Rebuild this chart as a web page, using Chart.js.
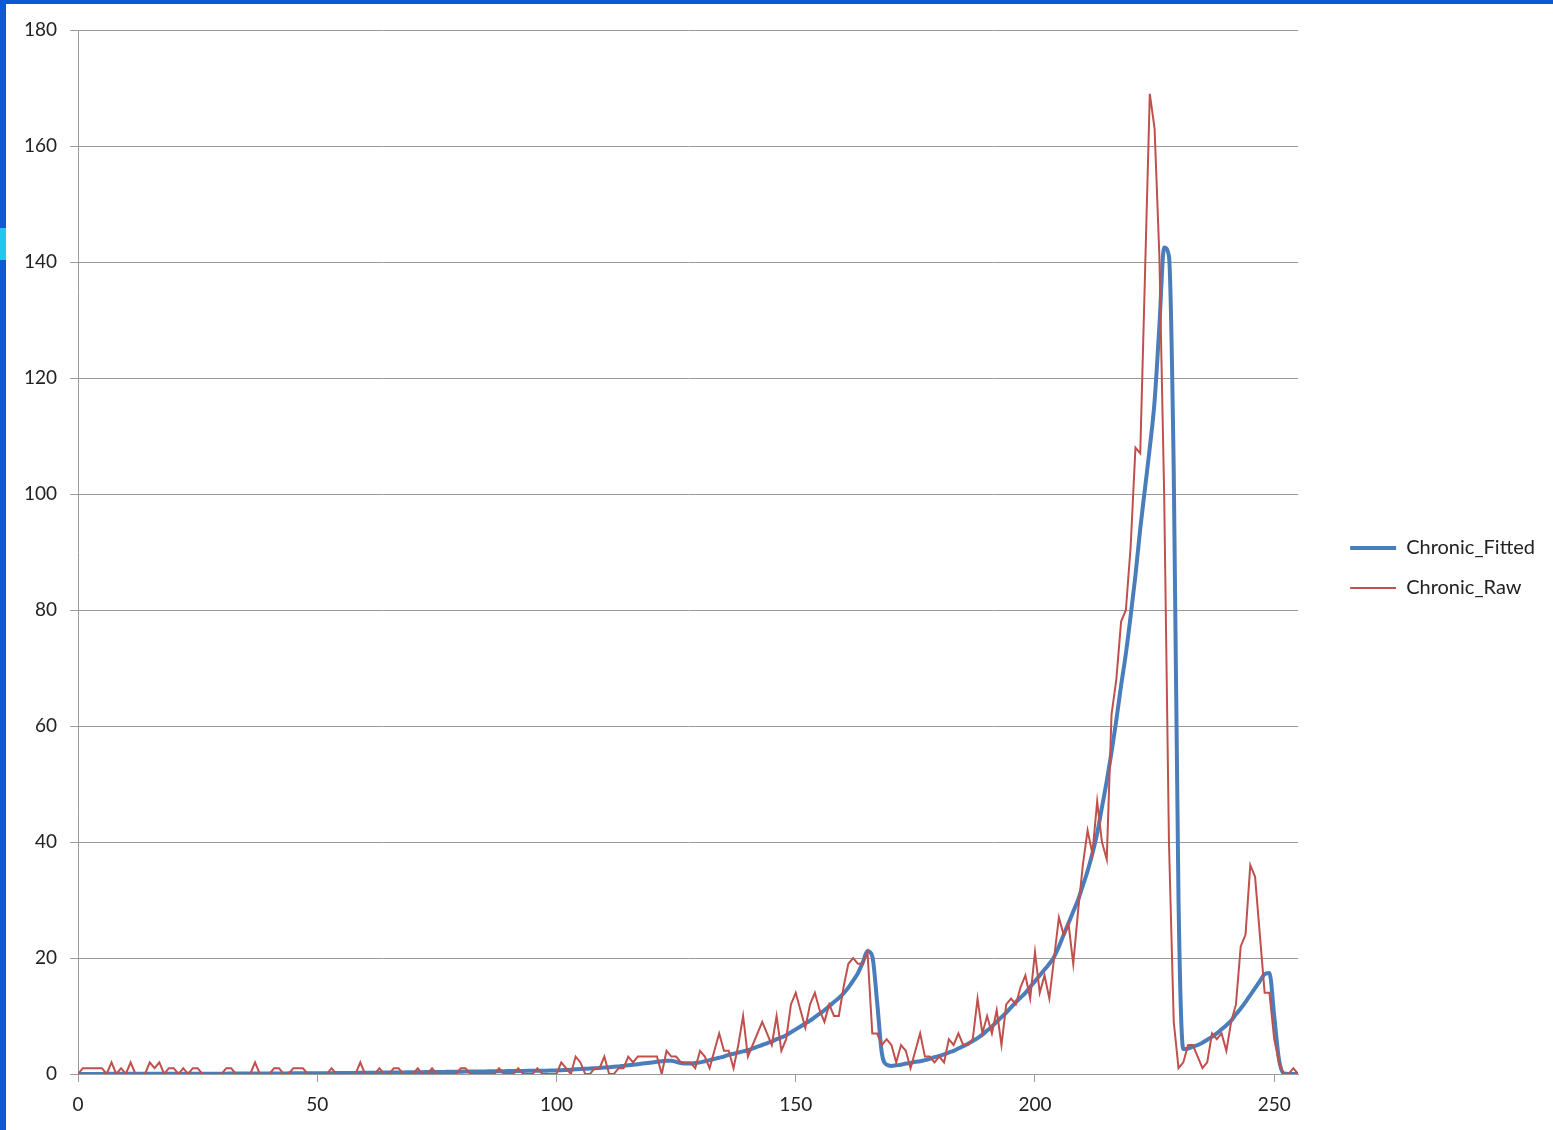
<!DOCTYPE html>
<html>
<head>
<meta charset="utf-8">
<title>Chronic</title>
<script src="https://cdn.jsdelivr.net/npm/chart.js@4.4.1/dist/chart.umd.min.js"></script>
<style>
  html, body { margin: 0; padding: 0; background: #fff; }
  #wrap { position: relative; width: 1553px; height: 1130px; }
  .frame { position: absolute; background: #0b5ad3; }
</style>
</head>
<body>
<div id="wrap">
  <canvas id="chronicChart"></canvas>
  <div class="frame" style="left:0;top:0;width:1553px;height:4px"></div>
  <div class="frame" style="left:0;top:0;width:6px;height:1130px"></div>
  <div class="frame" style="left:0;top:228px;width:6px;height:32px;background:#1ec8f0"></div>
</div>
<script>
// giá trị, mỗi điểm là một ngày 0..255
const chronicRaw = [
  0, 1, 1, 1, 1, 1, 0, 2, 0, 1,
  0, 2, 0, 0, 0, 2, 1, 2, 0, 1,
  1, 0, 1, 0, 1, 1, 0, 0, 0, 0,
  0, 1, 1, 0, 0, 0, 0, 2, 0, 0,
  0, 1, 1, 0, 0, 1, 1, 1, 0, 0,
  0, 0, 0, 1, 0, 0, 0, 0, 0, 2,
  0, 0, 0, 1, 0, 0, 1, 1, 0, 0,
  0, 1, 0, 0, 1, 0, 0, 0, 0, 0,
  1, 1, 0, 0, 0, 0, 0, 0, 1, 0,
  0, 0, 1, 0, 0, 0, 1, 0, 0, 0,
  0, 2, 1, 0, 3, 2, 0, 0, 1, 1,
  3, 0, 0, 1, 1, 3, 2, 3, 3, 3,
  3, 3, 0, 4, 3, 3, 2, 2, 2, 1,
  4, 3, 1, 4, 7, 4, 4, 1, 5, 10,
  3, 5, 7, 9, 7, 5, 10, 4, 6, 12,
  14, 11, 8, 12, 14, 11, 9, 12, 10, 10,
  15, 19, 20, 19, 19, 21, 7, 7, 5, 6,
  5, 2, 5, 4, 1, 4, 7, 3, 3, 2,
  3, 2, 6, 5, 7, 5, 5, 6, 13, 7,
  10, 7, 11, 5, 12, 13, 12, 15, 17, 13,
  21, 14, 17, 13, 20, 27, 24, 26, 19, 28,
  36, 42, 38, 47, 40, 37, 62, 68, 78, 80,
  91, 108, 107, 138, 169, 163, 141, 100, 40, 9,
  1, 2, 5, 5, 3, 1, 2, 7, 6, 7,
  4, 9, 12, 22, 24, 36, 34, 24, 14, 14,
  6, 2, 0, 0, 1, 0
];

const chronicFitted = [
  0.02, 0.02, 0.02, 0.02, 0.02, 0.02, 0.03, 0.03, 0.03, 0.03,
  0.03, 0.03, 0.03, 0.03, 0.04, 0.04, 0.04, 0.04, 0.04, 0.04,
  0.05, 0.05, 0.05, 0.05, 0.05, 0.06, 0.06, 0.06, 0.06, 0.06,
  0.06, 0.06, 0.07, 0.07, 0.07, 0.07, 0.08, 0.08, 0.08, 0.09,
  0.09, 0.09, 0.1, 0.1, 0.11, 0.11, 0.12, 0.12, 0.13, 0.13,
  0.14, 0.14, 0.15, 0.15, 0.16, 0.17, 0.17, 0.18, 0.19, 0.2,
  0.2, 0.21, 0.22, 0.23, 0.24, 0.25, 0.26, 0.27, 0.28, 0.29,
  0.3, 0.31, 0.32, 0.33, 0.34, 0.35, 0.36, 0.37, 0.38, 0.39,
  0.4, 0.41, 0.42, 0.43, 0.44, 0.45, 0.46, 0.47, 0.48, 0.49,
  0.5, 0.51, 0.52, 0.53, 0.54, 0.55, 0.56, 0.57, 0.58, 0.59,
  0.6, 0.65, 0.7, 0.75, 0.8, 0.85, 0.9, 0.95, 1.0, 1.05,
  1.1, 1.15, 1.25, 1.3, 1.4, 1.5, 1.6, 1.7, 1.8, 1.9,
  2.0, 2.1, 2.2, 2.3, 2.3, 2.1, 1.9, 1.8, 1.8, 1.9,
  2.0, 2.2, 2.4, 2.6, 2.8, 3.0, 3.3, 3.5, 3.7, 3.9,
  4.1, 4.4, 4.7, 5.0, 5.3, 5.6, 6.0, 6.3, 6.7, 7.2,
  7.7, 8.2, 8.7, 9.2, 9.8, 10.4, 11.0, 11.7, 12.4, 13.1,
  13.9, 14.9, 16.1, 17.4, 19.2, 21.2, 20.3, 12.5, 3.6, 1.6,
  1.4, 1.5, 1.6, 1.8, 1.9, 2.1, 2.2, 2.4, 2.6, 2.9,
  3.1, 3.4, 3.7, 4.0, 4.4, 4.8, 5.2, 5.7, 6.2, 6.8,
  7.5, 8.2, 9.0, 9.8, 10.6, 11.5, 12.4, 13.2, 14.0, 15.0,
  16.0, 17.0, 18.0, 19.0, 20.2, 22.0, 24.0, 26.0, 28.0, 30.0,
  32.5, 35.0, 38.0, 41.5, 46.0, 50.5, 55.5, 61.0, 67.0, 72.5,
  79.0, 86.0, 94.0, 101.0, 108.0, 116.0, 129.0, 142.5, 141.0, 104.0,
  30.0, 4.3, 4.4, 4.7, 5.0, 5.4, 5.9, 6.4, 7.0, 7.7,
  8.4, 9.2, 10.3, 11.3, 12.4, 13.6, 14.8, 16.0, 17.2, 17.4,
  10.0, 2.5, 0.1, 0, 0, 0
];

const days = Array.from({ length: chronicRaw.length }, (_, i) => i);
const xTicks = [0, 50, 100, 150, 200, 250];

const gridGrey = '#9a9a9a';
const tickFont = { family: 'Lato', size: 19 };

// trục rỗng, chỉ để chừa khoảng trống
const spacer = (pos, size) => ({
    position: pos,
    afterFit: (scale) => {
        if (pos === 'top') scale.height = size; else scale.width = size;
    },
    ticks: { display: false },
    grid: { display: false },
    border: { display: false }
});

const ctx = document.getElementById('chronicChart').getContext('2d');
const chronicChart = new Chart(ctx, {
    type: 'line',
    data: {
        labels: days,
        datasets: [{
            label: 'Chronic_Raw',
            data: chronicRaw,
            borderColor: '#c0504d',
            backgroundColor: '#c0504d',
            borderWidth: 2,
            pointRadius: 0,
            tension: 0,
            fill: false
        }, {
            label: 'Chronic_Fitted',
            data: chronicFitted,
            borderColor: '#4a7ebb',
            backgroundColor: '#4a7ebb',
            borderWidth: 4,
            pointRadius: 0,
            cubicInterpolationMode: 'monotone',
            fill: false
        }]
    },
    options: {
        responsive: true,
        maintainAspectRatio: false,
        animation: false,
        layout: { padding: { top: 6, right: 8, bottom: 0, left: 0 } },
        plugins: {
            legend: {
                position: 'right',
                reverse: true, // Fitted trước, Raw sau
                labels: {
                    boxWidth: 46,
                    boxHeight: 0,
                    padding: 20,
                    color: '#222',
                    font: { family: 'Lato', size: 20 }
                }
            },
            tooltip: { enabled: false }
        },
        scales: {
            x: {
                type: 'linear',
                min: 0,
                max: 255,
                afterBuildTicks: (scale) => {
                    scale.ticks = xTicks.map(v => ({ value: v }));
                },
                afterFit: (scale) => { scale.height = 56; },
                ticks: { color: '#222', font: tickFont, padding: 11, maxRotation: 0 },
                grid: { drawOnChartArea: false, tickLength: 8, color: gridGrey },
                border: { color: gridGrey }
            },
            y: {
                min: 0,
                max: 180,
                afterFit: (scale) => { scale.width = 78; },
                ticks: { stepSize: 20, color: '#222', font: tickFont, padding: 13 },
                grid: { color: gridGrey, tickLength: 8 },
                border: { color: gridGrey }
            },
            gapRight: spacer('right', 32),
            gapTop: spacer('top', 24)
        }
    }
});
</script>
</body>
</html>
